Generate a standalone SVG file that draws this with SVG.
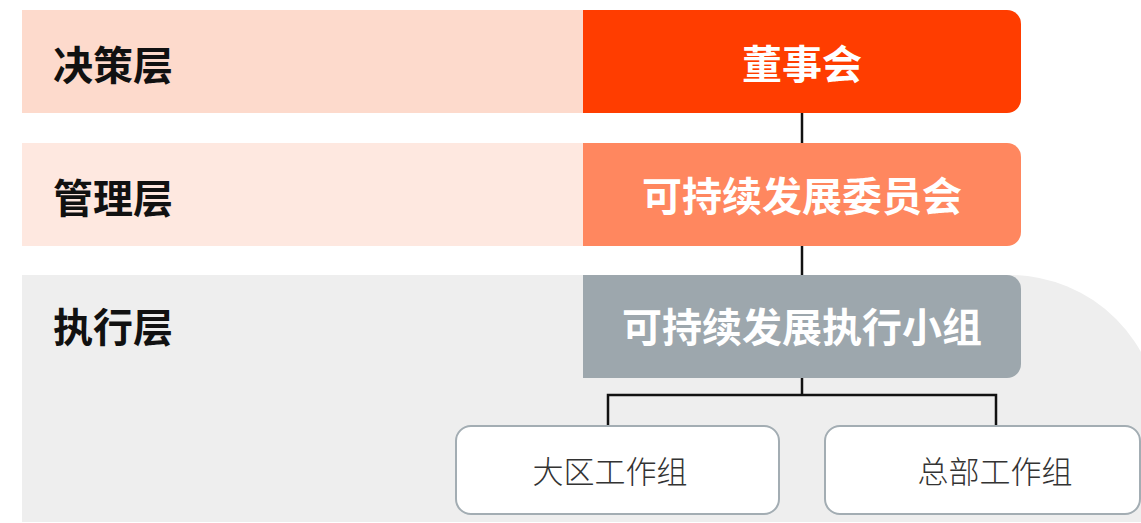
<svg xmlns="http://www.w3.org/2000/svg" width="1141" height="523" viewBox="0 0 1141 523">
<style>
.lbl{font-family:"Noto Sans CJK SC","Noto Sans",sans-serif;font-weight:bold;font-size:40px;fill:#111}
.ttl{font-family:"Noto Sans CJK SC","Noto Sans",sans-serif;font-weight:bold;font-size:40px;fill:#fff;text-anchor:middle}
.sub{font-family:"Noto Sans CJK SC","Noto Sans",sans-serif;font-weight:300;font-size:31px;fill:#333;text-anchor:middle}
.wk{fill:#fff;stroke:#A3ADB3;stroke-width:2}
.cn{fill:none;stroke:#111;stroke-width:2.5}
</style>
<rect width="1141" height="523" fill="#fff"/>
<g id="bands">
<rect x="22" y="10" width="570" height="103" fill="#FDDACC"/>
<rect x="22" y="143" width="570" height="103" fill="#FEE8E0"/>
<path d="M22,275 H1010 A150,150 0 0 1 1160,425 V522 H22 Z" fill="#EEEEEE"/>
</g>
<g id="connectors">
<line class="cn" x1="802" y1="113" x2="802" y2="143"/>
<line class="cn" x1="802" y1="246" x2="802" y2="275"/>
<path class="cn" d="M802,378 V395 M608,426 V395 H996 V426"/>
</g>
<g id="label-decision"><text class="lbl" x="53" y="80">决策层</text></g>
<g id="label-management"><text class="lbl" x="53" y="213">管理层</text></g>
<g id="label-execution"><text class="lbl" x="53" y="342">执行层</text></g>
<g id="board">
<path d="M583,10 H1007 A14,14 0 0 1 1021,24 V99 A14,14 0 0 1 1007,113 H583 Z" fill="#FF3D00"/>
<text class="ttl" x="802" y="79">董事会</text>
</g>
<g id="committee">
<path d="M583,143 H1007 A14,14 0 0 1 1021,157 V232 A14,14 0 0 1 1007,246 H583 Z" fill="#FF875F"/>
<text class="ttl" x="802" y="211">可持续发展委员会</text>
</g>
<g id="exec-group">
<path d="M583,275 H1007 A14,14 0 0 1 1021,289 V364 A14,14 0 0 1 1007,378 H583 Z" fill="#9DA7AD"/>
<text class="ttl" x="802" y="342">可持续发展执行小组</text>
</g>
<g id="regional">
<rect class="wk" x="456" y="426" width="323" height="88" rx="15"/>
<text class="sub" x="610" y="483">大区工作组</text>
</g>
<g id="hq">
<rect class="wk" x="825" y="426" width="315" height="88" rx="15"/>
<text class="sub" x="995" y="483">总部工作组</text>
</g>
</svg>
